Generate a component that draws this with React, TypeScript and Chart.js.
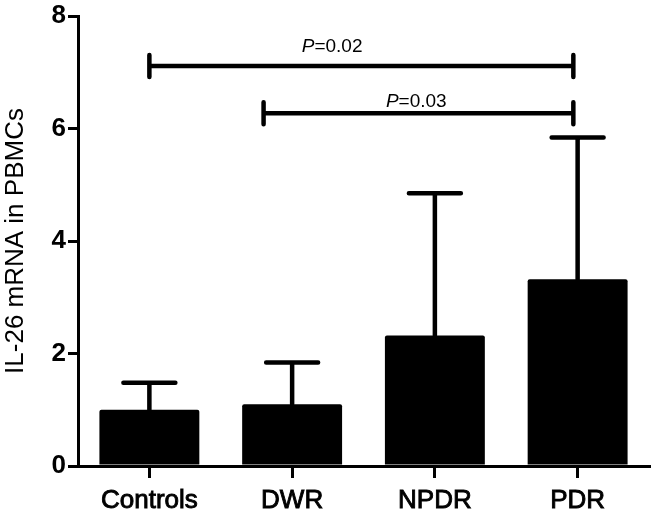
import React, { useEffect, useRef } from "react";
import { Chart, registerables } from "chart.js";

Chart.register(...registerables);

const categories = ["Controls", "DWR", "NPDR", "PDR"];
const means = [1.0, 1.1, 2.32, 3.32];
const errors = [0.48, 0.74, 2.53, 2.52];
const yTicks = [0, 2, 4, 6, 8];
const yTitle = "IL-26 mRNA in PBMCs";

// significance brackets: x positions in category-index units, y in data units
const bracketFrom = [0, 0.8];
const bracketTo = [2.97, 2.97];
const bracketY = [7.11, 6.27];
const bracketLabels = ["0.02", "0.03"];
const bracketLabelX = [1.28, 1.87];
const bracketLabelY = [7.36, 6.38];

const FONT = "'Liberation Sans', Arial, sans-serif";

const annotPlugin = {
  id: "annot",
  afterDatasetsDraw(chart: any) {
    const ctx = chart.ctx;
    const xs = chart.scales.x;
    const ys = chart.scales.y;
    const meta = chart.getDatasetMeta(0);
    ctx.save();
    ctx.strokeStyle = "#000";
    ctx.lineCap = "round";
    ctx.lineWidth = 4.5;
    meta.data.forEach((el: any, i: number) => {
      const x = el.x;
      const yTop = el.y;
      const yErr = ys.getPixelForValue(means[i] + errors[i]);
      const capW = el.width * 0.52;
      ctx.beginPath();
      ctx.moveTo(x, yTop);
      ctx.lineTo(x, yErr);
      ctx.moveTo(x - capW / 2, yErr);
      ctx.lineTo(x + capW / 2, yErr);
      ctx.stroke();
    });
    // brackets
    for (let i = 0; i < bracketFrom.length; i++) {
      const x1 = xs.getPixelForValue(bracketFrom[i]);
      const x2 = xs.getPixelForValue(bracketTo[i]);
      const y = ys.getPixelForValue(bracketY[i]);
      ctx.lineWidth = 4.5;
      ctx.beginPath();
      ctx.moveTo(x1, y);
      ctx.lineTo(x2, y);
      ctx.moveTo(x1, y - 11);
      ctx.lineTo(x1, y + 11);
      ctx.moveTo(x2, y - 11);
      ctx.lineTo(x2, y + 11);
      ctx.stroke();
      // label
      const lx = xs.getPixelForValue(bracketLabelX[i]);
      const ly = ys.getPixelForValue(bracketLabelY[i]);
      ctx.fillStyle = "#000";
      ctx.textBaseline = "alphabetic";
      const fItalic = `italic 19px ${FONT}`;
      const fNorm = `19px ${FONT}`;
      ctx.font = fItalic;
      const wP = ctx.measureText("P").width;
      ctx.font = fNorm;
      const rest = "=" + bracketLabels[i];
      const wR = ctx.measureText(rest).width;
      const start = lx - (wP + wR) / 2;
      ctx.textAlign = "left";
      ctx.font = fItalic;
      ctx.fillText("P", start, ly);
      ctx.font = fNorm;
      ctx.fillText(rest, start + wP, ly);
    }
    ctx.restore();
  },
};

export default function App() {
  const ref = useRef<HTMLCanvasElement>(null);
  useEffect(() => {
    const chart = new Chart(ref.current!, {
      type: "bar",
      data: {
        labels: categories,
        datasets: [
          {
            data: means,
            backgroundColor: "#000",
            borderColor: "#000",
            borderWidth: 0,
            borderRadius: 2,
            borderSkipped: "bottom",
            barPercentage: 0.7,
            categoryPercentage: 1,
          },
        ],
      },
      options: {
        animation: false,
        responsive: false,
        maintainAspectRatio: false,
        layout: { padding: { left: 0, right: 7, top: 16, bottom: 0 } },
        plugins: { legend: { display: false }, tooltip: { enabled: false } },
        scales: {
          x: {
            offset: true,
            grid: {
              display: true,
              offset: false,
              drawOnChartArea: false,
              drawTicks: true,
              tickLength: 12,
              tickWidth: 3,
              color: "#000",
              lineWidth: 3,
            },
            border: { display: true, color: "#000", width: 3 },
            ticks: {
              color: "#000",
              padding: 7,
              textStrokeColor: "#000",
              textStrokeWidth: 0.9,
              font: { family: FONT, size: 26, weight: "normal" },
            },
            afterFit: (s: any) => {
              s.height = 55;
            },
          },
          y: {
            min: 0,
            max: 8,
            afterBuildTicks: (s: any) => {
              s.ticks = yTicks.map((v) => ({ value: v }));
            },
            grid: {
              display: true,
              drawOnChartArea: false,
              drawTicks: true,
              tickLength: 10,
              tickWidth: 3,
              color: "#000",
              lineWidth: 3,
            },
            border: { display: true, color: "#000", width: 3 },
            ticks: {
              color: "#000",
              padding: 2,
              font: { family: FONT, size: 26, weight: "bold", lineHeight: 1 },
            },
            title: {
              display: true,
              text: yTitle,
              color: "#000",
              padding: { top: 0, bottom: 4 },
              font: { family: FONT, size: 26, weight: "normal" },
            },
            afterFit: (s: any) => {
              s.width = 78;
            },
          },
        },
      },
      plugins: [annotPlugin],
    });
    return () => chart.destroy();
  }, []);
  return (
    <div style={{ position: "fixed", left: 0, top: 0, width: 656, height: 521, background: "#fff" }}>
      <canvas ref={ref} width={656} height={521} style={{ width: 656, height: 521 }} />
    </div>
  );
}
